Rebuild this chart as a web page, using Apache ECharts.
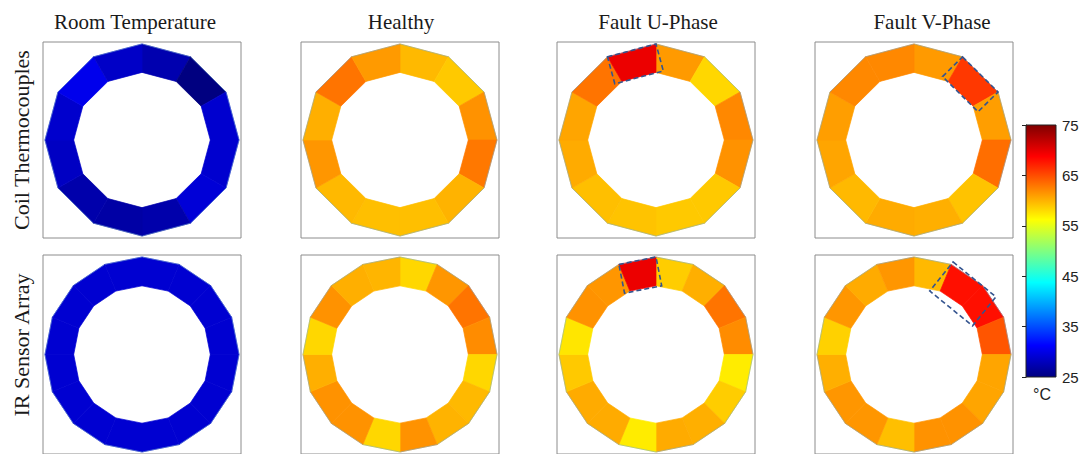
<!DOCTYPE html>
<html>
<head>
<meta charset="utf-8">
<script src="https://cdn.jsdelivr.net/npm/echarts@6/dist/echarts.min.js"></script>
<style>
  html, body { margin: 0; padding: 0; background: #fff; }
  #chart { width: 1082px; height: 454px; }
</style>
</head>
<body>
<div id="chart"></div>
<script>
// Column and row headings
const panelTitles = ['Room Temperature', 'Healthy', 'Fault U-Phase', 'Fault V-Phase'];
const rowLabels = ['Coil Thermocouples', 'IR Sensor Array'];

// Coil thermocouples: 12 sectors, clockwise from 12 o'clock (°C)
const coilRoom    = [27.3, 25.0, 28.9, 28.9, 29.3, 27.1, 26.8, 27.1, 28.3, 28.8, 30.3, 28.5];
const coilHealthy = [59.7, 58.9, 61.6, 62.9, 60.0, 59.4, 59.4, 59.7, 61.4, 60.2, 63.1, 61.2];
const coilFaultU  = [61.2, 58.2, 62.1, 61.6, 58.9, 58.9, 59.2, 59.4, 60.4, 60.7, 63.1, 69.7];
const coilFaultV  = [61.2, 66.0, 61.0, 63.4, 59.2, 60.2, 60.4, 59.7, 60.7, 61.0, 62.1, 62.1];

// IR sensor array: 16 sectors, clockwise from 12 o'clock (°C)
const irRoom    = [29.0, 29.0, 29.0, 29.0, 29.0, 29.0, 29.0, 29.0, 29.0, 29.0, 29.0, 29.0, 29.0, 29.0, 29.0, 29.0];
const irHealthy = [58.2, 61.4, 63.1, 61.9, 58.2, 59.7, 60.0, 61.6, 58.2, 61.6, 61.6, 60.2, 58.2, 61.6, 60.2, 59.9];
const irFaultU  = [58.7, 60.2, 63.1, 61.9, 57.2, 58.7, 60.2, 60.4, 57.2, 60.4, 60.4, 58.9, 57.5, 61.6, 61.4, 69.7];
const irFaultV  = [59.7, 68.0, 68.0, 64.6, 60.7, 60.7, 61.6, 61.6, 59.4, 61.4, 61.4, 60.2, 58.5, 61.4, 60.4, 61.4];

// Colour scale ticks (°C)
const colorbarTicks = [25, 35, 45, 55, 65, 75];

// ---- layout & styling ----
const panelData = [
  [coilRoom, coilHealthy, coilFaultU, coilFaultV],
  [irRoom, irHealthy, irFaultU, irFaultV]
];
const colCenters = [142, 400, 656, 914];
const rowBoxes = [{ top: 42, height: 196 }, { top: 255, height: 200 }];
const titleCenters = [135, 401, 658, 932];
const R_OUT = 0.98, R_IN = 0.69;

// dashed outline around the faulted coil region:
// [row, col, start angle°, end angle°, depth, outer radius]
const faultOutlines = [
  [0, 2, 330, 360, 0.285, 0.98],
  [0, 3, 30, 60, 0.285, 0.98],
  [1, 2, 337.5, 360, 0.295, 0.98],
  [1, 3, 23, 55, 0.375, 1.01]
];

// MATLAB-style jet colour map
const jet = ['#000080', '#0000ff', '#0080ff', '#00ffff', '#80ff80', '#ffff00', '#ff8000', '#ff0000', '#800000'];

const grids = [], xAxes = [], yAxes = [], series = [];
const ringSeriesIdx = [];

function ringRenderer(n) {
  return function (params, api) {
    const k = api.value(0);
    const a0 = k * 2 * Math.PI / n, a1 = (k + 1) * 2 * Math.PI / n;
    const pts = [
      [R_OUT * Math.sin(a0), R_OUT * Math.cos(a0)],
      [R_OUT * Math.sin(a1), R_OUT * Math.cos(a1)],
      [R_IN * Math.sin(a1), R_IN * Math.cos(a1)],
      [R_IN * Math.sin(a0), R_IN * Math.cos(a0)]
    ].map(p => api.coord(p));
    const color = api.visual('color');
    return {
      type: 'group',
      children: [
        {
          type: 'polygon',
          shape: { points: pts },
          style: { fill: color, stroke: color, lineWidth: 0.7 }
        },
        {
          // thin edge along the outer rim
          type: 'line',
          shape: { x1: pts[0][0], y1: pts[0][1], x2: pts[1][0], y2: pts[1][1] },
          style: { stroke: 'rgba(110,165,205,0.55)', lineWidth: 0.9 }
        }
      ]
    };
  };
}

function outlineRenderer(params, api) {
  const d2r = Math.PI / 180;
  const a1 = api.value(0) * d2r, a2 = api.value(1) * d2r;
  const depth = api.value(2), r = api.value(3);
  const m = (a1 + a2) / 2;
  const ix = -depth * Math.sin(m), iy = -depth * Math.cos(m);
  const p1 = [r * Math.sin(a1), r * Math.cos(a1)];
  const p2 = [r * Math.sin(a2), r * Math.cos(a2)];
  const pts = [p1, p2, [p2[0] + ix, p2[1] + iy], [p1[0] + ix, p1[1] + iy]].map(p => api.coord(p));
  return {
    type: 'polygon',
    shape: { points: pts },
    style: { fill: 'none', stroke: '#34548f', lineWidth: 1.6, lineDash: [5, 3] }
  };
}

let gi = 0;
const gridIndexOf = {};
for (let r = 0; r < 2; r++) {
  for (let c = 0; c < 4; c++) {
    grids.push({
      left: colCenters[c] - 99, top: rowBoxes[r].top, width: 198, height: rowBoxes[r].height,
      show: true, borderColor: '#8c8c8c', borderWidth: 1, backgroundColor: 'transparent'
    });
    xAxes.push({ type: 'value', gridIndex: gi, min: -1, max: 1, show: false });
    yAxes.push({ type: 'value', gridIndex: gi, min: -1, max: 1, show: false });
    const vals = panelData[r][c];
    ringSeriesIdx.push(series.length);
    series.push({
      type: 'custom',
      name: rowLabels[r] + ' / ' + panelTitles[c],
      coordinateSystem: 'cartesian2d',
      xAxisIndex: gi, yAxisIndex: gi,
      data: vals.map((v, k) => [k, v]),
      renderItem: ringRenderer(vals.length),
      silent: true
    });
    gridIndexOf[r + '-' + c] = gi;
    gi++;
  }
}

faultOutlines.forEach(f => {
  const g = gridIndexOf[f[0] + '-' + f[1]];
  series.push({
    type: 'custom',
    coordinateSystem: 'cartesian2d',
    xAxisIndex: g, yAxisIndex: g,
    data: [[f[2], f[3], f[4], f[5]]],
    renderItem: outlineRenderer,
    silent: true,
    z: 5
  });
});

// colour bar
const cbMin = colorbarTicks[0], cbMax = colorbarTicks[colorbarTicks.length - 1];
grids.push({
  left: 1026, top: 125, width: 30, height: 252,
  show: true, borderColor: '#222', borderWidth: 1, backgroundColor: 'transparent', z: 3
});
xAxes.push({ type: 'value', gridIndex: gi, min: 0, max: 1, show: false });
yAxes.push({
  type: 'value', gridIndex: gi, min: cbMin, max: cbMax,
  interval: colorbarTicks[1] - colorbarTicks[0],
  position: 'right',
  axisLine: { show: true, lineStyle: { color: '#222', width: 1 } },
  axisTick: { show: true, inside: true, length: 4, lineStyle: { color: '#222' } },
  axisLabel: { fontFamily: 'Liberation Sans', fontSize: 15, color: '#222', margin: 6 },
  splitLine: { show: false }
});
series.push({
  type: 'custom',
  coordinateSystem: 'cartesian2d',
  xAxisIndex: gi, yAxisIndex: gi,
  data: [[cbMin, cbMax]],
  renderItem: function (params, api) {
    const p0 = api.coord([0, api.value(0)]);
    const p1 = api.coord([1, api.value(1)]);
    const stops = jet.map((c, i) => ({ offset: i / (jet.length - 1), color: c }));
    return {
      type: 'rect',
      shape: { x: p0[0], y: p1[1], width: p1[0] - p0[0], height: p0[1] - p1[1] },
      style: { fill: new echarts.graphic.LinearGradient(0, 1, 0, 0, stops) }
    };
  },
  silent: true
});

const serif = '"Liberation Serif", "Times New Roman", serif';
const graphics = [];
panelTitles.forEach((t, c) => {
  graphics.push({
    type: 'text', x: titleCenters[c], y: 22,
    style: { text: t, font: '21px ' + serif, fill: '#1a1a1a',
             align: 'center', verticalAlign: 'middle', textAlign: 'center', textVerticalAlign: 'middle' }
  });
});
[140, 345].forEach((cy, r) => {
  graphics.push({
    type: 'text', x: 21, y: cy, rotation: Math.PI / 2,
    style: { text: rowLabels[r], font: '22px ' + serif, fill: '#1a1a1a',
             align: 'center', verticalAlign: 'middle', textAlign: 'center', textVerticalAlign: 'middle' }
  });
});
graphics.push({
  type: 'text', x: 1042, y: 394,
  style: { text: '°C', font: '16px "Liberation Sans", Arial, sans-serif', fill: '#222',
           align: 'center', verticalAlign: 'middle', textAlign: 'center', textVerticalAlign: 'middle' }
});

const chart = echarts.init(document.getElementById('chart'), null, { renderer: 'svg' });
chart.setOption({
  animation: false,
  backgroundColor: '#fff',
  grid: grids,
  xAxis: xAxes,
  yAxis: yAxes,
  visualMap: {
    type: 'continuous', show: false,
    min: cbMin, max: cbMax, dimension: 1,
    seriesIndex: ringSeriesIdx,
    inRange: { color: jet }
  },
  graphic: graphics,
  series: series
});
</script>
</body>
</html>
